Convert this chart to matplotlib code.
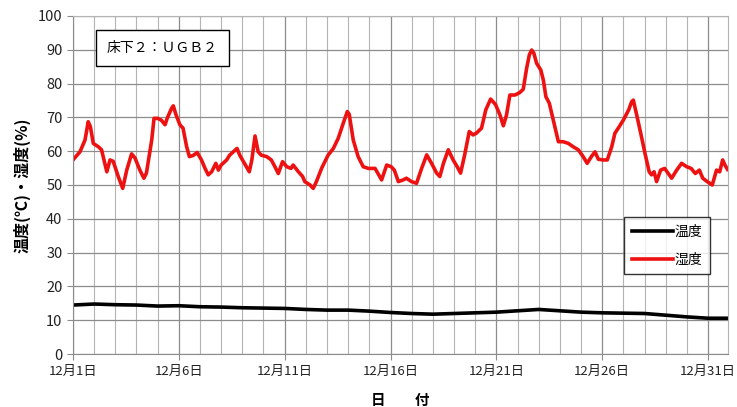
import matplotlib
matplotlib.use("Agg")
import matplotlib.pyplot as plt
import numpy as np

plt.rcParams['font.family'] = ['Noto Sans CJK JP', 'DejaVu Sans']

# humidity (%) : day offset from Dec 1, value
hum_days = [0, 0.33, 0.57, 0.72, 0.82, 0.96, 1.2, 1.35, 1.6, 1.75, 1.9, 2.14, 2.35, 2.54, 2.77, 2.93,
            3.16, 3.35, 3.47, 3.72, 3.83, 4.0, 4.17, 4.35, 4.45, 4.66, 4.74, 4.86, 5.05, 5.2, 5.37,
            5.5, 5.67, 5.87, 6.07, 6.24, 6.39, 6.55, 6.75, 6.87, 7.0, 7.26, 7.4, 7.57, 7.75, 7.88,
            8.1, 8.33, 8.45, 8.6, 8.75, 8.9, 9.15, 9.37, 9.54, 9.7, 9.9, 10.1, 10.3, 10.4, 10.65,
            10.85, 10.95, 11.2, 11.35, 11.5, 11.75, 12.05, 12.3, 12.53, 12.77, 12.96, 13.05, 13.24,
            13.47, 13.71, 13.95, 14.27, 14.58, 14.82, 15.03, 15.18, 15.37, 15.6, 15.75, 15.99,
            16.23, 16.47, 16.71, 16.94, 17.18, 17.33, 17.5, 17.73, 17.96, 18.15, 18.31, 18.5,
            18.72, 18.9, 19.05, 19.3, 19.5, 19.73, 19.96, 20.17, 20.33, 20.48, 20.64, 20.88, 21.1,
            21.27, 21.43, 21.56, 21.67, 21.77, 21.9, 22.1, 22.22, 22.34, 22.5, 22.69, 22.93, 23.15,
            23.4, 23.63, 23.87, 24.1, 24.29, 24.49, 24.66, 24.82, 25.05, 25.24, 25.45, 25.6, 25.8,
            26.0, 26.25, 26.39, 26.47, 26.63, 26.82, 27.02, 27.22, 27.33, 27.45, 27.57, 27.76,
            27.95, 28.28, 28.52, 28.75, 28.99, 29.2, 29.4, 29.59, 29.75, 29.96, 30.2, 30.4, 30.55,
            30.69, 30.8, 30.92]
hum_vals = [57.4, 59.8, 63.3, 68.7, 67.3, 62.3, 61.3, 60.4, 53.9, 57.4, 57.0, 52.5, 49.0, 54.4, 59.2,
            58.0, 54.4, 52.0, 53.5, 63.3, 69.7, 69.7, 69.2, 67.8, 69.7, 72.7, 73.4, 70.9, 67.8, 66.8,
            61.3, 58.4, 58.7, 59.6, 57.4, 54.9, 53.0, 53.9, 56.4, 54.4, 55.9, 57.4, 58.8, 59.8, 60.8,
            58.8, 56.4, 53.9, 57.4, 64.5, 59.8, 58.8, 58.4, 57.4, 55.4, 53.4, 56.9, 55.4, 54.9, 55.9,
            53.9, 52.5, 51.0, 50.0, 49.0, 51.0, 55.0, 58.8, 60.8, 63.8, 68.3, 71.7, 70.9, 63.3, 58.4,
            55.4, 54.9, 54.9, 51.5, 55.9, 55.4, 54.4, 51.0, 51.5, 52.0, 51.0, 50.5, 54.9, 58.9, 56.4,
            53.5, 52.5, 56.4, 60.4, 57.4, 55.4, 53.5, 58.8, 65.8, 64.8, 65.3, 66.8, 72.2, 75.4, 73.8,
            70.7, 67.5, 70.7, 76.6, 76.6, 77.3, 78.3, 84.5, 88.5, 89.9, 89.0, 86.0, 84.0, 81.0, 76.1,
            74.2, 69.2, 62.8, 62.8, 62.3, 61.3, 60.4, 58.4, 56.4, 58.4, 59.8, 57.6, 57.4, 57.4, 61.3,
            65.3, 67.2, 69.2, 72.2, 74.6, 75.1, 70.7, 65.3, 59.4, 53.9, 53.0, 53.9, 51.0, 54.4, 54.9,
            52.0, 54.4, 56.4, 55.4, 54.9, 53.4, 54.4, 52.0, 51.0, 50.0, 54.4, 53.9, 57.4, 55.9, 54.6]

# temperature (degC)
temp_days = [0, 1, 2, 3, 4, 5, 6, 7, 8, 9, 10, 11, 12, 13, 14, 15, 16, 17, 18, 19, 20, 21, 22,
             23, 24, 25, 26, 27, 28, 29, 30, 30.92]
temp_vals = [14.5, 14.8, 14.6, 14.5, 14.2, 14.3, 14.0, 13.9, 13.7, 13.6, 13.5, 13.2, 13.0, 13.0,
             12.7, 12.3, 12.0, 11.8, 12.0, 12.2, 12.4, 12.8, 13.2, 12.8, 12.4, 12.2, 12.1, 12.0,
             11.5, 11.0, 10.6, 10.6]

tick_days = [0, 5, 10, 15, 20, 25, 30]
tick_labels = ['12月1日', '12月6日', '12月11日', '12月16日', '12月21日', '12月26日', '12月31日']

fig = plt.figure(figsize=(7.37, 4.07), dpi=100)
ax = fig.add_axes([0.099, 0.130, 0.889, 0.831])

ax.set_xlim(0, 30.95)
ax.set_ylim(0, 100)
ax.set_yticks(np.arange(0, 101, 10))
ax.set_xticks(tick_days)
ax.set_xticklabels(tick_labels)
ax.set_xticks(np.arange(0, 31, 1), minor=True)
ax.grid(True, which='major', color='#8c8c8c', lw=0.9)
ax.grid(True, which='minor', axis='x', color='#b4b4b4', lw=0.8)
ax.set_axisbelow(True)
ax.tick_params(which='minor', length=0)
ax.tick_params(which='major', length=4, color='#8c8c8c', labelcolor='#222222')
ax.tick_params(axis='x', labelsize=9.5)
ax.tick_params(axis='y', labelsize=10.5)
for s in ['top', 'right']:
    ax.spines[s].set_color('#b4b4b4')
for s in ['left', 'bottom']:
    ax.spines[s].set_color('#8c8c8c')

l1, = ax.plot(temp_days, temp_vals, color='black', lw=2.6, label='温度')
l2, = ax.plot(hum_days, hum_vals, color='#ee1111', lw=2.6, label='湿度')

leg = ax.legend(handles=[l1, l2], loc='upper left', bbox_to_anchor=(0.841, 0.405),
                fontsize=10, frameon=True, fancybox=False, edgecolor='black',
                handlelength=3.0, handletextpad=0.1, borderpad=0.55, labelspacing=1.0,
                borderaxespad=0)
leg.get_frame().set_linewidth(1.0)

ax.text(0.052, 0.905, '床下２：ＵＧＢ２', transform=ax.transAxes, fontsize=10, va='center', ha='left',
        bbox=dict(boxstyle='square,pad=0.8', fc='white', ec='black', lw=1.0))

ax.set_ylabel('温度(℃)・湿度(%)', fontsize=11.5, fontweight='bold')
ax.yaxis.set_label_coords(-0.064, 0.5)
ax.set_xlabel('日　　付', fontsize=10.5, fontweight='bold', va='center')
ax.xaxis.set_label_coords(0.499, -0.135)

fig.savefig('out.png', dpi=100)
